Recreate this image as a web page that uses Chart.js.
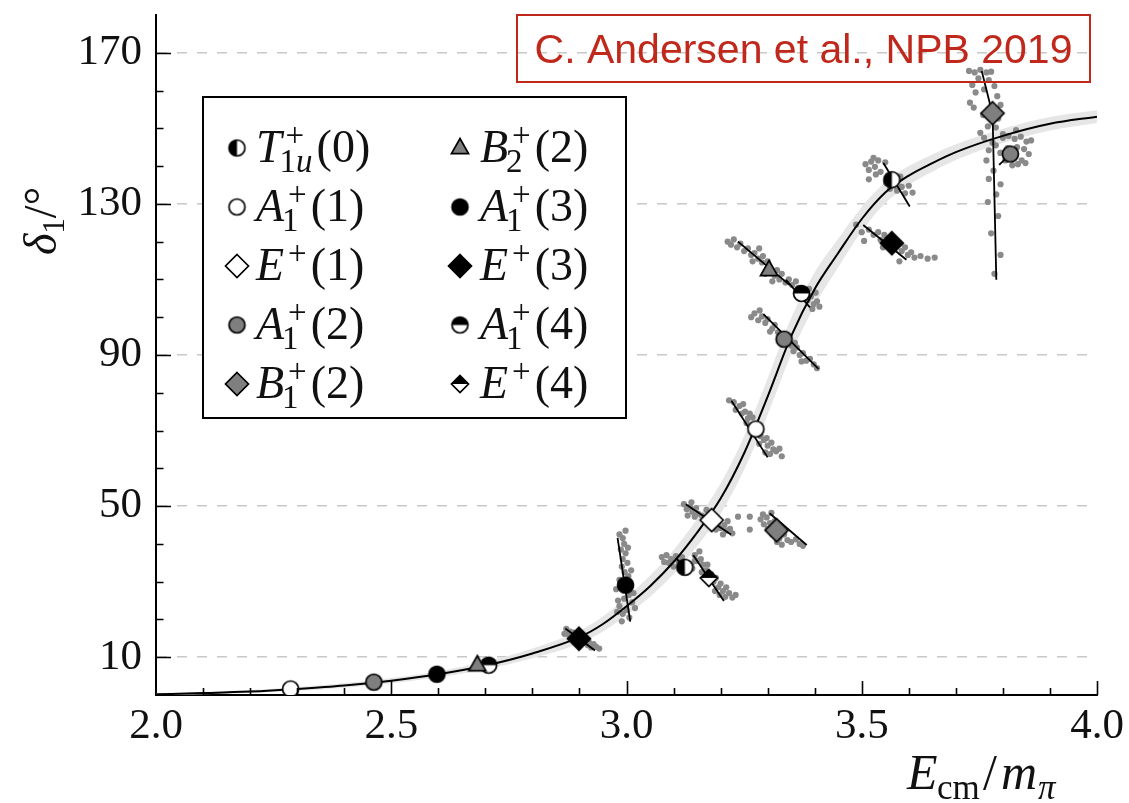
<!DOCTYPE html>
<html lang="en">
<head>
<meta charset="UTF-8">
<title>Rho phase shift δ1</title>
<script src="https://cdn.jsdelivr.net/npm/chart.js"></script>
<style>
  body { margin: 0; background: #fff; }
  #wrap { width: 1129px; height: 803px; }
</style>
</head>
<body>
<div id="wrap"><canvas id="phaseChart" width="1129" height="803"></canvas></div>
<script>
// ---- data (E_cm/m_pi, delta_1 in degrees) ----
const xTicks = [2.0, 2.5, 3.0, 3.5, 4.0];
const xTickLabels = ['2.0', '2.5', '3.0', '3.5', '4.0'];
const yTicks = [10, 50, 90, 130, 170];
const yTickLabels = ['10', '50', '90', '130', '170'];

// fitted curve and its error band (half width in degrees)
const curveE     = [2.0, 2.1, 2.2, 2.3, 2.4, 2.5, 2.6, 2.7, 2.8, 2.9, 2.95, 3.0, 3.05, 3.1, 3.15, 3.2, 3.25, 3.3, 3.35, 3.4, 3.45, 3.5, 3.55, 3.6, 3.65, 3.7, 3.8, 3.9, 4.0];
const curveDelta = [0.2, 0.5, 0.9, 1.6, 2.5, 3.8, 5.5, 7.8, 11.0, 15.3, 18.8, 23.5, 28.8, 35.2, 43, 52, 64, 79, 95, 107.5, 117, 126, 133, 137.5, 140.8, 143.7, 148, 151.2, 153.1];
const bandHalf   = [0.3, 0.3, 0.4, 0.5, 0.6, 0.7, 0.8, 1.0, 1.3, 1.7, 2.0, 2.4, 2.8, 3.2, 3.6, 4.0, 4.4, 4.8, 4.8, 4.4, 3.8, 3.2, 2.8, 2.5, 2.3, 2.1, 1.9, 1.8, 1.7];

// irrep levels
const T1u0 = [[3.124, 33.8], [3.564, 136.4]];
const A1p1 = [[2.286, 1.6], [3.275, 70.4]];
const Ep1  = [[3.181, 46.3]];
const A1p2 = [[2.463, 3.4], [3.335, 94.2], [3.816, 143.2]];
const B1p2 = [[3.319, 43.6], [3.778, 154.0]];
const B2p2 = [[2.683, 7.9], [3.303, 112.5]];
const A1p3 = [[2.597, 5.5], [2.998, 29.1]];
const Ep3  = [[2.899, 14.9], [3.564, 119.6]];
const A1p4 = [[2.707, 7.9], [3.372, 106.3]];
const Ep4  = [[3.175, 31.0]];

// error directions through the levels
const errSegments = [
  [[2.981, 41.6], [3.008, 19.4]],
  [[2.870, 17.6], [2.933, 11.8]],
  [[3.105, 36.2], [3.135, 32.5]],
  [[3.142, 37.0], [3.207, 24.9]],
  [[3.126, 50.5], [3.222, 42.5]],
  [[3.304, 48.1], [3.383, 39.7]],
  [[3.223, 77.9], [3.300, 62.9]],
  [[3.291, 100.8], [3.408, 86.3]],
  [[3.237, 120.0], [3.347, 108.5]],
  [[3.339, 109.9], [3.390, 102.6]],
  [[3.546, 140.8], [3.602, 129.3]],
  [[3.503, 124.4], [3.595, 115.2]],
  [[3.755, 165.2], [3.765, 160.2], [3.772, 156.7], [3.778, 154.0], [3.786, 109.9]],
  [[3.792, 140.3], [3.816, 143.2]]
];

// bootstrap samples (grey dots)
const samplesA1p3 = [[2.985,42.5],[2.992,41.5],[2.995,40],[2.988,38.5],[2.998,37.5],[2.992,36],[3.002,35],[2.990,34],[2.996,32.5],[3.004,31.5],[2.985,30.5],[3.008,29],[2.978,28],[3.005,26.5],[2.995,25.5],[3.012,24.5],[2.985,23.5],[3.000,22.5],[2.992,21.5],[3.006,20.5],[2.980,22],[3.015,27],[2.990,19.5],[3.010,33],[2.982,25],[3.018,23],[2.998,43.5],[3.003,39]];
const samplesEp3lo = [[2.872,17.5],[2.880,16.8],[2.888,16.5],[2.885,15.5],[2.895,15.8],[2.905,14.2],[2.912,13.8],[2.918,13.2],[2.925,12.6],[2.935,12.8],[2.942,12.3],[2.878,15.8],[2.908,15.2],[2.920,14],[2.930,13.5],[2.868,16.2],[2.890,14.2]];
const samplesT1ulo = [[3.075,36.5],[3.085,37],[3.095,36],[3.105,36.8],[3.110,35.5],[3.118,36.5],[3.130,35],[3.138,34.5],[3.100,34],[3.090,35],[3.125,32.5],[3.140,33.5],[3.115,33],[3.080,35.2],[3.145,35.5]];
const samplesEp4 = [[3.145,37],[3.150,35.5],[3.158,36],[3.162,34.5],[3.168,33],[3.172,34.5],[3.180,32],[3.185,30],[3.190,31],[3.195,28.5],[3.200,29.5],[3.205,27.5],[3.210,26],[3.218,27],[3.225,25.8],[3.232,26.5],[3.198,26.5],[3.160,32.5],[3.188,27.5],[3.212,28.5],[3.155,38]];
const samplesEp1 = [[3.122,50.5],[3.128,49.2],[3.135,49.8],[3.140,48.5],[3.148,49.5],[3.152,48],[3.145,47.2],[3.160,47.5],[3.195,45.5],[3.200,44.2],[3.208,45],[3.212,43.5],[3.220,44],[3.225,42.8],[3.205,42.5],[3.190,43.8],[3.130,47.5],[3.170,49],[3.138,51],[3.215,46]];
const samplesB1p2lo = [[3.237,47.2],[3.262,47.2],[3.262,43.8],[3.285,46.5],[3.292,45.2],[3.298,47],[3.305,45.5],[3.300,44],[3.310,42.5],[3.315,46],[3.325,41.5],[3.335,42.5],[3.342,41],[3.350,40.5],[3.360,41.2],[3.368,40],[3.375,39.5],[3.330,39.8],[3.290,47.8],[3.308,48.2],[3.320,40.5]];
const samplesA1p1 = [[3.218,78],[3.228,77.5],[3.232,75.5],[3.240,76.5],[3.245,74.5],[3.252,75],[3.258,73.2],[3.262,74.5],[3.255,72],[3.268,73.5],[3.285,68.5],[3.292,67.5],[3.298,68],[3.300,66],[3.308,66.8],[3.312,65],[3.318,64.5],[3.325,65.2],[3.330,63.2],[3.295,64.2],[3.282,66.5],[3.248,77],[3.305,63.8]];
const samplesA1p2mid = [[3.265,100],[3.272,101],[3.280,99.2],[3.288,100.2],[3.295,98.5],[3.300,99.5],[3.310,97],[3.315,98],[3.322,96],[3.350,92.5],[3.355,91],[3.362,92],[3.368,90],[3.375,90.5],[3.382,88.5],[3.390,89],[3.398,87.5],[3.405,86.5],[3.372,88.3],[3.283,101.8],[3.305,96.2],[3.358,93.2]];
const samplesB2p2 = [[3.215,120],[3.222,119.2],[3.228,120.6],[3.235,118.5],[3.242,119.5],[3.250,117.5],[3.258,118.2],[3.265,116.5],[3.272,117],[3.280,115.5],[3.288,114.5],[3.290,116.2],[3.315,111],[3.320,112.5],[3.325,110],[3.330,111.5],[3.338,109.2],[3.310,109.5],[3.295,111.5],[3.268,114.8],[3.282,118.2],[3.300,114.8]];
const samplesA1p4 = [[3.345,110],[3.352,108.5],[3.360,109.5],[3.385,104.5],[3.392,105.5],[3.398,103.5],[3.405,104.2],[3.410,102.8],[3.395,102.2],[3.388,107.5],[3.365,107.8],[3.402,106.5]];
const samplesT1uhi = [[3.508,140.5],[3.515,139],[3.520,141.2],[3.528,139.8],[3.535,141.5],[3.530,137.8],[3.540,138.5],[3.550,141],[3.552,135.5],[3.560,134],[3.575,133.5],[3.585,134.5],[3.592,132.8],[3.600,134.8],[3.608,133],[3.515,136.5],[3.525,142.2],[3.582,137.2]];
const samplesEp3hi = [[3.488,124.5],[3.500,122.5],[3.515,123.2],[3.525,121.8],[3.535,122.5],[3.540,120.5],[3.548,121.8],[3.585,117.5],[3.592,118.5],[3.598,116.5],[3.605,117.2],[3.612,115.8],[3.625,116.2],[3.640,115.5],[3.655,115.8],[3.545,118.5],[3.505,120.2],[3.580,114.8]];
const samplesB1p2hi = [[3.728,165.2],[3.740,164.8],[3.752,165.5],[3.765,164.8],[3.775,165],[3.748,163.2],[3.770,162.8],[3.735,161.5],[3.782,161.2],[3.742,159.5],[3.760,160.3],[3.788,158.5],[3.730,156.8],[3.795,156.2],[3.738,155.5],[3.790,152.6],[3.768,150.5],[3.785,150.2],[3.800,148.5],[3.760,147.5],[3.778,146.2],[3.770,144.2],[3.795,143.5],[3.765,141.5],[3.780,138.8],[3.770,136.6],[3.795,135.2],[3.786,132.5],[3.768,130.5],[3.790,126.8],[3.775,122.2],[3.795,116.5],[3.782,111.5],[3.758,153.5],[3.752,148.8]];
const samplesA1p2hi = [[3.800,147.5],[3.812,148],[3.825,147.2],[3.838,147.8],[3.850,146.5],[3.860,146.8],[3.830,145],[3.845,144.5],[3.855,143.2],[3.840,141.5],[3.832,140.5],[3.820,140.2],[3.805,141.5],[3.795,143.5],[3.785,145.5],[3.810,144.8],[3.848,140.8],[3.828,149.5]];

const allSamples = [].concat(samplesA1p3, samplesEp3lo, samplesT1ulo, samplesEp4, samplesEp1, samplesB1p2lo,
  samplesA1p1, samplesA1p2mid, samplesB2p2, samplesA1p4, samplesT1uhi, samplesEp3hi, samplesB1p2hi, samplesA1p2hi);

// ---- marker images ----
const SERIF = '"Liberation Serif", "DejaVu Serif", serif';
const GREY = '#7f7f7f';

function makeMarker(kind, fill, r) {
  const s = Math.ceil(2 * r + 5);
  const c = document.createElement('canvas');
  c.width = c.height = s;
  const g = c.getContext('2d');
  const m = s / 2;
  g.lineWidth = 1.7;
  g.strokeStyle = '#000';
  const shape = () => {
    g.beginPath();
    if (kind.startsWith('circle')) {
      g.arc(m, m, r, 0, Math.PI * 2);
    } else if (kind.startsWith('diamond')) {
      g.moveTo(m, m - r); g.lineTo(m + r, m); g.lineTo(m, m + r); g.lineTo(m - r, m);
    } else {
      g.moveTo(m, m - r); g.lineTo(m + r * 0.9, m + r * 0.6); g.lineTo(m - r * 0.9, m + r * 0.6);
    }
    g.closePath();
  };
  shape();
  g.fillStyle = fill;
  g.fill();
  g.fillStyle = '#000';
  if (kind === 'circleLR') {
    g.beginPath(); g.arc(m, m, r, Math.PI / 2, Math.PI * 1.5); g.closePath(); g.fill();
  } else if (kind === 'circleTB') {
    g.beginPath(); g.arc(m, m, r, Math.PI, Math.PI * 2); g.closePath(); g.fill();
  } else if (kind === 'diamondTB') {
    g.beginPath(); g.moveTo(m, m - r); g.lineTo(m + r, m); g.lineTo(m - r, m); g.closePath(); g.fill();
  }
  shape();
  g.stroke();
  return c;
}

const mk = {
  T1u0: makeMarker('circleLR', '#fff', 8),
  A1p1: makeMarker('circle', '#fff', 8),
  Ep1:  makeMarker('diamond', '#fff', 11.5),
  A1p2: makeMarker('circle', GREY, 8),
  B1p2: makeMarker('diamond', GREY, 11.5),
  B2p2: makeMarker('triangle', GREY, 9.5),
  A1p3: makeMarker('circle', '#000', 8),
  Ep3:  makeMarker('diamond', '#000', 11.5),
  A1p4: makeMarker('circleTB', '#fff', 8),
  Ep4:  makeMarker('diamondTB', '#fff', 8.5)
};

// legend: [marker key, base letter, superscript, subscript, argument]
const legendLeft = [
  ['T1u0', 'T', '+', '1u', '(0)'],
  ['A1p1', 'A', '+', '1', '(1)'],
  ['Ep1', 'E', '+', '', '(1)'],
  ['A1p2', 'A', '+', '1', '(2)'],
  ['B1p2', 'B', '+', '1', '(2)']
];
const legendRight = [
  ['B2p2', 'B', '+', '2', '(2)'],
  ['A1p3', 'A', '+', '1', '(3)'],
  ['Ep3', 'E', '+', '', '(3)'],
  ['A1p4', 'A', '+', '1', '(4)'],
  ['Ep4', 'E', '+', '', '(4)']
];

const pts = arr => arr.map(p => ({ x: p[0], y: p[1] }));

function levelSet(key, data) {
  return { type: 'scatter', data: pts(data), pointStyle: mk[key], pointRadius: 10, order: 0 };
}

const datasets = [
  levelSet('T1u0', T1u0), levelSet('A1p1', A1p1), levelSet('Ep1', Ep1), levelSet('A1p2', A1p2),
  levelSet('B1p2', B1p2), levelSet('B2p2', B2p2), levelSet('A1p3', A1p3), levelSet('Ep3', Ep3),
  levelSet('A1p4', A1p4), levelSet('Ep4', Ep4)
];
errSegments.forEach(seg => datasets.push({
  type: 'line', data: pts(seg), borderColor: '#000', borderWidth: 1.8, pointRadius: 0, fill: false, order: 1
}));
datasets.push({
  type: 'line', data: curveE.map((e, i) => ({ x: e, y: curveDelta[i] })), borderColor: '#000', borderWidth: 2,
  pointRadius: 0, cubicInterpolationMode: 'monotone', fill: false, order: 2
});
datasets.push({
  type: 'scatter', data: pts(allSamples), pointRadius: 3.1, backgroundColor: '#8a8a8a', borderWidth: 0, order: 3
});
datasets.push({
  type: 'line', data: curveE.map((e, i) => ({ x: e, y: curveDelta[i] - bandHalf[i] })), borderWidth: 0,
  pointRadius: 0, cubicInterpolationMode: 'monotone', fill: false, order: 4
});
datasets.push({
  type: 'line', data: curveE.map((e, i) => ({ x: e, y: curveDelta[i] + bandHalf[i] })), borderWidth: 0,
  pointRadius: 0, cubicInterpolationMode: 'monotone', fill: '-1', backgroundColor: '#e6e6e6', order: 5
});

// draws text where digits are upright and letters italic
function drawMixed(ctx, str, x, y, size) {
  let w = 0;
  for (const ch of str) {
    ctx.font = (/[0-9()+\/°]/.test(ch) ? '' : 'italic ') + size + 'px ' + SERIF;
    ctx.fillText(ch, x + w, y);
    w += ctx.measureText(ch).width;
  }
  return w;
}

function drawLegendLabel(ctx, item, x, y) {
  const size = 46, small = 33;
  ctx.font = 'italic ' + size + 'px ' + SERIF;
  ctx.fillText(item[1], x, y);
  x += ctx.measureText(item[1]).width;
  let wSup = 0, wSub = 0;
  ctx.font = small + 'px ' + SERIF;
  wSup = ctx.measureText(item[2]).width + 4;
  ctx.fillText(item[2], x + 4, y - 16);
  if (item[3]) wSub = drawMixed(ctx, item[3], x - 2, y + 10, small) - 2;
  x += Math.max(wSup, wSub) + 4;
  ctx.font = size + 'px ' + SERIF;
  ctx.fillText(item[4], x, y);
}

const decorPlugin = {
  id: 'decor',
  afterDraw(chart) {
    const ctx = chart.ctx;
    const xs = chart.scales.x, ys = chart.scales.y, a = chart.chartArea;
    ctx.save();
    // inward ticks
    ctx.strokeStyle = '#000';
    ctx.lineWidth = 1.6;
    ctx.beginPath();
    for (let k = 1; k <= 20; k++) {
      const v = 2 + k / 10;
      const px = Math.round(xs.getPixelForValue(v)) + 0.5;
      const len = k % 5 === 0 ? 14 : 7;
      ctx.moveTo(px, a.bottom); ctx.lineTo(px, a.bottom - len);
    }
    for (let v = 10; v <= 170; v += 10) {
      const py = Math.round(ys.getPixelForValue(v)) + 0.5;
      const len = yTicks.includes(v) ? 15 : 7.5;
      ctx.moveTo(a.left, py); ctx.lineTo(a.left + len, py);
    }
    ctx.stroke();

    // legend box
    ctx.fillStyle = '#fff';
    ctx.fillRect(203, 97, 423, 321);
    ctx.lineWidth = 2;
    ctx.strokeRect(203, 97, 423, 321);
    ctx.fillStyle = '#111';
    ctx.textBaseline = 'alphabetic';
    ctx.textAlign = 'left';
    const rowY = [148, 207, 266, 325, 384];
    [[legendLeft, 237, 256], [legendRight, 460, 480]].forEach(([items, mx, tx]) => {
      items.forEach((item, i) => {
        const img = mk[item[0]];
        ctx.drawImage(img, mx - img.width / 2, rowY[i] - img.height / 2);
        drawLegendLabel(ctx, item, tx, rowY[i] + 14);
      });
    });

    // reference box
    ctx.strokeStyle = '#c0281c';
    ctx.lineWidth = 2;
    ctx.strokeRect(517, 15, 573, 67);
    ctx.fillStyle = '#c0281c';
    ctx.font = '41px "Liberation Sans", Arial, sans-serif';
    ctx.textAlign = 'center';
    ctx.fillText('C. Andersen et al., NPB 2019', 803.5, 63);

    // axis titles
    ctx.fillStyle = '#111';
    ctx.textAlign = 'left';
    ctx.font = 'italic 50px ' + SERIF;
    ctx.fillText('E', 907, 789);
    ctx.font = '35px ' + SERIF;
    ctx.fillText('cm', 937, 799);
    ctx.font = '50px ' + SERIF;
    ctx.fillText('/', 983, 789);
    ctx.font = 'italic 50px ' + SERIF;
    ctx.fillText('m', 1001, 789);
    ctx.font = 'italic 35px ' + SERIF;
    ctx.fillText('π', 1038, 799);

    ctx.translate(56, 221);
    ctx.rotate(-Math.PI / 2);
    ctx.font = 'italic 46px ' + SERIF;
    const wd = ctx.measureText('δ').width;
    ctx.font = '31px ' + SERIF;
    const w1 = ctx.measureText('1').width;
    ctx.font = '46px ' + SERIF;
    const ws = ctx.measureText('/°').width;
    let sx = -(wd + w1 + ws) / 2;
    ctx.font = 'italic 46px ' + SERIF;
    ctx.fillText('δ', sx, 0); sx += wd;
    ctx.font = '31px ' + SERIF;
    ctx.fillText('1', sx, 8); sx += w1;
    ctx.font = '46px ' + SERIF;
    ctx.fillText('/°', sx, 0);
    ctx.restore();
  }
};

new Chart(document.getElementById('phaseChart'), {
  data: { datasets: datasets },
  options: {
    responsive: false,
    animation: false,
    events: [],
    layout: { padding: { left: 0, right: 32, top: 15, bottom: 0 } },
    plugins: { legend: { display: false }, tooltip: { enabled: false } },
    scales: {
      x: {
        type: 'linear', min: 2, max: 4,
        afterBuildTicks: s => { s.ticks = xTicks.map(v => ({ value: v })); },
        afterFit: s => { s.height = 108; s.paddingLeft = 0; s.paddingRight = 0; },
        ticks: {
          callback: (v, i) => xTickLabels[i], autoSkip: false, maxRotation: 0, padding: 6,
          color: '#111', font: { family: SERIF, size: 43 }
        },
        grid: { display: false, drawTicks: false },
        border: { display: true, color: '#000', width: 2 }
      },
      y: {
        type: 'linear', min: 0, max: 180,
        afterBuildTicks: s => { s.ticks = yTicks.map(v => ({ value: v })); },
        afterFit: s => { s.width = 156; s.paddingTop = 0; s.paddingBottom = 0; },
        ticks: {
          callback: (v, i) => yTickLabels[i], padding: 14,
          color: '#111', font: { family: SERIF, size: 43 }
        },
        grid: { color: '#c8c8c8', lineWidth: 1.5, drawTicks: false },
        border: { display: true, color: '#000', width: 2, dash: [10, 10] }
      }
    }
  },
  plugins: [decorPlugin]
});
</script>
</body>
</html>
